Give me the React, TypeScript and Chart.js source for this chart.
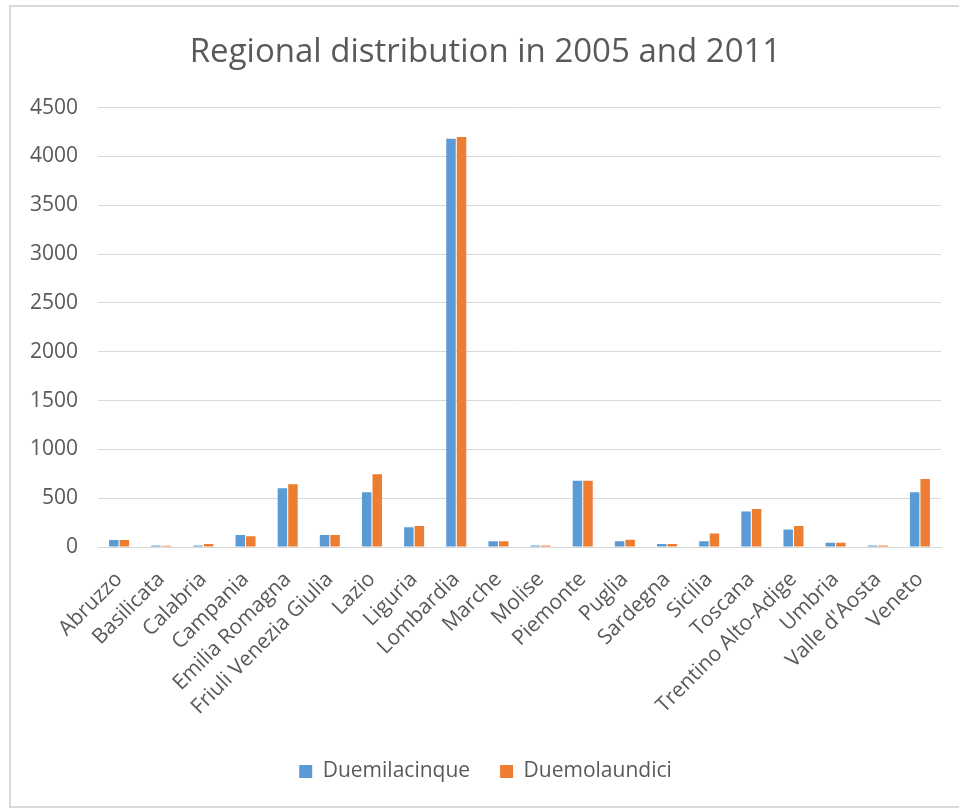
import React, { useEffect, useRef } from "react";
import { Chart, registerables } from "chart.js";

Chart.register(...registerables);

const regions = [
  "Abruzzo",
  "Basilicata",
  "Calabria",
  "Campania",
  "Emilia Romagna",
  "Friuli Venezia Giulia",
  "Lazio",
  "Liguria",
  "Lombardia",
  "Marche",
  "Molise",
  "Piemonte",
  "Puglia",
  "Sardegna",
  "Sicilia",
  "Toscana",
  "Trentino Alto-Adige",
  "Umbria",
  "Valle d'Aosta",
  "Veneto",
];

const duemilacinque = [72, 15, 15, 124, 602, 124, 561, 202, 4181, 60, 15, 679, 60, 30, 60, 363, 178, 44, 15, 561];
const duemolaundici = [72, 14, 30, 111, 642, 124, 746, 215, 4199, 60, 15, 679, 74, 30, 138, 390, 215, 44, 15, 696];

const yTicks = [0, 500, 1000, 1500, 2000, 2500, 3000, 3500, 4000, 4500];

const FONT = "'Open Sans', 'Liberation Sans', sans-serif";
const TEXT = "#595959";
const GRID = "#D9D9D9";

export default function App() {
  const canvasRef = useRef<HTMLCanvasElement | null>(null);

  useEffect(() => {
    if (!canvasRef.current) return;
    const chart = new Chart(canvasRef.current, {
      type: "bar",
      data: {
        labels: regions,
        datasets: [
          {
            label: "Duemilacinque",
            data: duemilacinque,
            backgroundColor: "#5B9BD5",
            categoryPercentage: 0.5,
            barPercentage: 0.9,
          },
          {
            label: "Duemolaundici",
            data: duemolaundici,
            backgroundColor: "#ED7D31",
            categoryPercentage: 0.5,
            barPercentage: 0.9,
          },
        ],
      },
      options: {
        animation: false,
        responsive: false,
        devicePixelRatio: 1,
        layout: { padding: { left: 30, right: 18, top: 0, bottom: 16 } },
        plugins: {
          title: {
            display: true,
            text: "Regional distribution in 2005 and 2011",
            color: TEXT,
            font: { family: FONT, size: 33, weight: "normal" },
            padding: { top: 33, bottom: 35 },
          },
          legend: {
            position: "bottom",
            labels: {
              color: TEXT,
              font: { family: FONT, size: 21 },
              boxWidth: 13,
              boxHeight: 13,
              padding: 30,
            },
          },
          tooltip: { enabled: false },
        },
        scales: {
          x: {
            grid: { display: false, drawTicks: false },
            border: { display: true, color: GRID, width: 1 },
            ticks: {
              color: TEXT,
              font: { family: FONT, size: 21 },
              minRotation: 45,
              maxRotation: 45,
              autoSkip: false,
              padding: 20,
            },
            afterFit: (scale: any) => {
              scale.height = 184;
              // rotated labels may spill left of the plot; the y axis keeps that room
              scale.paddingLeft = 0;
            },
          },
          y: {
            min: 0,
            max: 4500,
            afterBuildTicks: (scale: any) => {
              scale.ticks = yTicks.map((v) => ({ value: v }));
            },
            grid: { color: GRID, drawTicks: false },
            border: { display: false },
            ticks: {
              color: TEXT,
              font: { family: FONT, size: 21 },
              padding: 20,
              callback: (v: any) => String(v),
            },
            afterFit: (scale: any) => {
              scale.width = 68;
            },
          },
        },
      },
    });
    return () => chart.destroy();
  }, []);

  return (
    <div style={{ position: "fixed", left: 0, top: 0, width: 959, height: 808, background: "#fff" }}>
      <canvas ref={canvasRef} width={959} height={808} style={{ position: "absolute", left: 0, top: 0 }} />
      <div
        style={{
          position: "absolute",
          left: 9,
          top: 5,
          width: 950,
          height: 799,
          borderTop: `2px solid ${GRID}`,
          borderLeft: `2px solid ${GRID}`,
          borderBottom: `2px solid ${GRID}`,
          pointerEvents: "none",
        }}
      />
    </div>
  );
}
